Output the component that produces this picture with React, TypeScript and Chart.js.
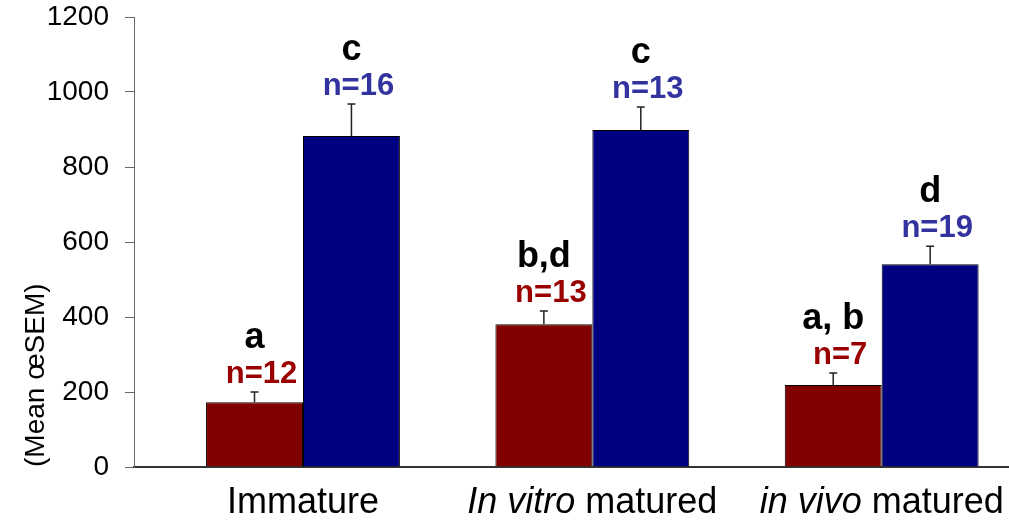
import React, { useEffect, useRef } from "react";
import { Chart, registerables } from "chart.js";

Chart.register(...registerables);

// ---- data ----
const categories = ["Immature", "In vitro matured", "in vivo matured"];
const italicParts = ["", "In vitro", "in vivo"];
const redValues = [173, 381, 219];
const blueValues = [883, 899, 541];
const redSem = [27, 35, 32];
const blueSem = [85, 61, 48];
const redLetters = ["a", "b,d", "a, b"];
const blueLetters = ["c", "c", "d"];
const redN = ["n=12", "n=13", "n=7"];
const blueN = ["n=16", "n=13", "n=19"];
const yMin = 0;
const yMax = 1200;
const yStep = 200;
const yTitle = "(Mean œSEM)";

const FONT = "'Liberation Sans', Arial, Helvetica, sans-serif";

const annotationPlugin = {
  id: "annotations",
  afterDatasetsDraw(chart: any) {
    const ctx = chart.ctx;
    const yScale = chart.scales.y;
    const groups = [
      { sem: redSem, letters: redLetters, n: redN, color: "#9a0000" },
      { sem: blueSem, letters: blueLetters, n: blueN, color: "#3333a0" },
    ];
    groups.forEach((g, di) => {
      const meta = chart.getDatasetMeta(di);
      const ds = chart.data.datasets[di].data;
      meta.data.forEach((bar: any, i: number) => {
        const val = ds[i].y;
        const top = yScale.getPixelForValue(val + g.sem[i]);
        ctx.save();
        ctx.strokeStyle = "#222";
        ctx.lineWidth = 1.5;
        ctx.beginPath();
        ctx.moveTo(bar.x, bar.y);
        ctx.lineTo(bar.x, top);
        ctx.moveTo(bar.x - 4, top);
        ctx.lineTo(bar.x + 4, top);
        ctx.stroke();
        ctx.textAlign = "center";
        ctx.textBaseline = "alphabetic";
        ctx.font = `bold 31px ${FONT}`;
        ctx.fillStyle = g.color;
        ctx.fillText(g.n[i], bar.x + 7, top - 9);
        ctx.font = `bold 36px ${FONT}`;
        ctx.fillStyle = "#000";
        ctx.fillText(g.letters[i], bar.x, top - 44);
        ctx.restore();
      });
    });
  },
  afterDraw(chart: any) {
    const ctx = chart.ctx;
    const xScale = chart.scales.x;
    const baseY = chart.chartArea.bottom + 46;
    categories.forEach((label, i) => {
      const cx = xScale.getPixelForValue(i);
      const ital = italicParts[i];
      const rest = ital ? label.slice(ital.length) : label;
      ctx.save();
      ctx.fillStyle = "#000";
      ctx.textBaseline = "alphabetic";
      ctx.textAlign = "left";
      ctx.font = `italic 36px ${FONT}`;
      const wi = ital ? ctx.measureText(ital).width : 0;
      ctx.font = `36px ${FONT}`;
      const wr = ctx.measureText(rest).width;
      let x = cx - (wi + wr) / 2;
      if (ital) {
        ctx.font = `italic 36px ${FONT}`;
        ctx.fillText(ital, x, baseY);
        x += wi;
      }
      ctx.font = `36px ${FONT}`;
      ctx.fillText(rest, x, baseY);
      ctx.restore();
    });
  },
};

export default function App() {
  const ref = useRef<HTMLCanvasElement | null>(null);
  useEffect(() => {
    if (!ref.current) return;
    const chart = new Chart(ref.current, {
      type: "bar",
      data: {
        datasets: [
          {
            data: redValues.map((v, i) => ({ x: i, y: v })),
            backgroundColor: "#800000",
            borderColor: "#000",
            borderWidth: 1,
            barPercentage: 1,
            categoryPercentage: 0.67,
          },
          {
            data: blueValues.map((v, i) => ({ x: i, y: v })),
            backgroundColor: "#000080",
            borderColor: "#000",
            borderWidth: 1,
            barPercentage: 1,
            categoryPercentage: 0.67,
          },
        ],
      } as any,
      options: {
        animation: false,
        responsive: true,
        maintainAspectRatio: false,
        layout: { padding: 0 },
        plugins: { legend: { display: false }, tooltip: { enabled: false } },
        scales: {
          x: {
            type: "linear",
            offset: false,
            min: -0.584,
            max: 2.44,
            afterBuildTicks: (scale: any) => {
              scale.ticks = categories.map((_, i) => ({ value: i }));
            },
            afterFit: (scale: any) => {
              scale.height = 54;
              scale.paddingLeft = 0;
              scale.paddingRight = 0;
            },
            ticks: { display: false },
            grid: { display: false },
            border: { display: true, color: "#333", width: 2 },
          },
          y: {
            min: yMin,
            max: yMax,
            afterFit: (scale: any) => {
              scale.width = 134;
              scale.paddingTop = 17;
              scale.paddingBottom = 0;
            },
            ticks: {
              stepSize: yStep,
              padding: 16,
              color: "#000",
              font: { family: FONT, size: 28 },
              callback: (v: any) => String(v),
            },
            grid: {
              display: true,
              drawOnChartArea: false,
              drawTicks: true,
              tickLength: 9,
              color: "#666",
            },
            border: { display: true, color: "#666", width: 1 },
            title: {
              display: true,
              text: yTitle,
              align: "start",
              color: "#000",
              font: { family: FONT, size: 28 },
              padding: { top: 19, bottom: 0 },
            },
          },
        },
      } as any,
      plugins: [annotationPlugin],
    });
    return () => chart.destroy();
  }, []);
  return (
    <div style={{ position: "fixed", left: 0, top: 0, width: 1009, height: 521, background: "#fff" }}>
      <canvas ref={ref} />
    </div>
  );
}
